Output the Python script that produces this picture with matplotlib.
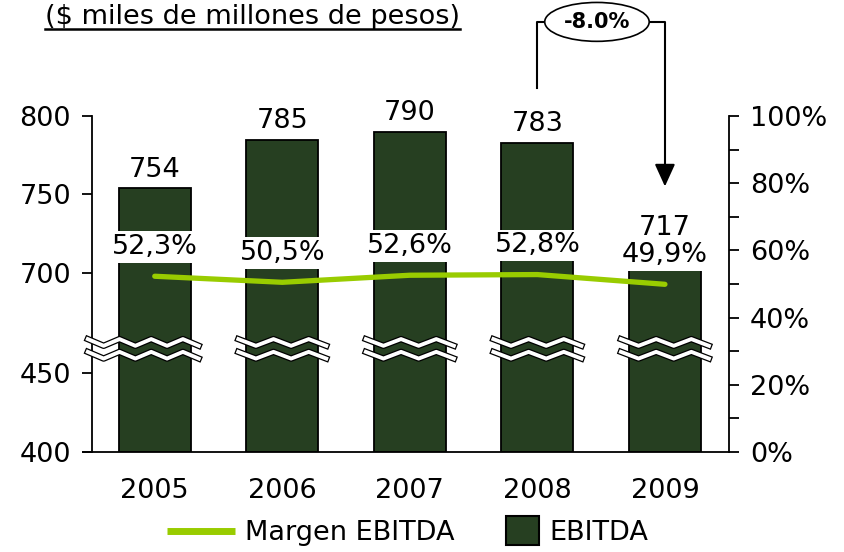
#!/usr/bin/env python3
"""
Recreates the EBITDA / Margen EBITDA chart with a broken left axis.
"""

import numpy as np
import matplotlib
matplotlib.use("Agg")
import matplotlib.pyplot as plt
import matplotlib.patheffects as pe
from matplotlib.lines import Line2D
from matplotlib.patches import Patch, Rectangle
from matplotlib.legend_handler import HandlerPatch
from matplotlib.transforms import blended_transform_factory

# data
years = ['2005', '2006', '2007', '2008', '2009']
ebitda = [754, 785, 790, 783, 717]
margen = [52.3, 50.5, 52.6, 52.8, 49.9]
left_ticks = [400, 450, 700, 750, 800]
right_ticks = [0, 20, 40, 60, 80, 100]
change_label = '-8.0%'
title = '($ miles de millones de pesos)'

BAR_COLOR = '#263F21'
LINE_COLOR = '#99CC00'
FS = 19.5

# broken axis: values between B1 and B2 are cut out
B1, B2 = 465.6, 651.6


def fwd(v):
    v = np.asarray(v, float)
    return np.where(v <= B1, v, np.where(v >= B2, v - (B2 - B1), B1))


def inv(u):
    u = np.asarray(u, float)
    return np.where(u <= B1, u, u + (B2 - B1))


plt.rcParams['font.family'] = ['DejaVu Sans']
fig = plt.figure(figsize=(8.44, 5.52), dpi=100)
ax = fig.add_axes([0.1087, 0.1812, 0.8637 - 0.1087, 0.7899 - 0.1812])

x = np.arange(len(years))
ax.set_yscale('function', functions=(fwd, inv))
bars = ax.bar(x, np.array(ebitda) - 400, bottom=400, width=0.565,
              color=BAR_COLOR, edgecolor='black', linewidth=1.3, zorder=2)
ax.set_ylim(400, 800)
ax.set_xlim(-0.494, 4.502)
ax.set_yticks(left_ticks)
ax.set_yticklabels([str(t) for t in left_ticks])
ax.set_xticks(x)
ax.set_xticklabels(years)
ax.tick_params(axis='y', direction='out', length=7, width=1.3,
               labelsize=FS, pad=8)
ax.tick_params(axis='x', length=0, labelsize=FS, pad=19)
for s in ['top', 'right']:
    ax.spines[s].set_visible(False)
ax.spines['left'].set_linewidth(1.3)
ax.spines['bottom'].set_linewidth(1.3)
ax.spines['bottom'].set_bounds(-0.56, 4.502)

for xi, v in zip(x, ebitda):
    ax.annotate(str(v), (xi, v), xytext=(0, 4), textcoords='offset points',
                ha='center', va='bottom', fontsize=FS, zorder=3)

# right axis: margin
ax2 = ax.twinx()
ax2.plot(x, margen, color=LINE_COLOR, lw=3.8, solid_capstyle='round', zorder=3)
ax2.set_ylim(0, 100)
ax2.set_yticks(right_ticks)
ax2.set_yticklabels([f'{t}%' for t in right_ticks])
ax2.set_yticks(np.arange(10, 100, 20), minor=True)
ax2.tick_params(axis='y', which='both', direction='out', length=7, width=1.3,
                labelsize=FS, pad=8)
for s in ['top', 'left', 'bottom']:
    ax2.spines[s].set_visible(False)
ax2.spines['right'].set_linewidth(1.3)

for xi, m in zip(x, margen):
    ax2.annotate(f'{m:.1f}'.replace('.', ',') + '%', (xi, m), xytext=(0, 21),
                 textcoords='offset points', ha='center', va='center',
                 fontsize=FS, zorder=4,
                 bbox=dict(facecolor='white', edgecolor='none', pad=2.0))

# break marks
bt = blended_transform_factory(ax.transData, ax.transAxes)
zz_fx = [pe.Stroke(linewidth=4.6, foreground='black'), pe.Normal()]
for xi in x:
    x0 = -0.525 if xi == 0 else xi - 0.345
    xs = np.linspace(x0, xi + 0.345, 8 if xi == 0 else 6)
    wig = np.where(np.arange(len(xs)) % 2 == 0, 0.010, -0.010)
    for yb in (0.326, 0.288):
        ax2.plot(xs, yb + wig, color='white', lw=2.8, transform=bt,
                 clip_on=False, zorder=5, path_effects=zz_fx)

# change bracket with arrow
ax2.plot([3, 3, 4, 4], [1.083, 1.28, 1.28, 0.83], color='black', lw=1.5,
         transform=bt, clip_on=False, zorder=5)
ax2.annotate('', xy=(4, 0.782), xycoords=bt, xytext=(4, 0.84), textcoords=bt,
             arrowprops=dict(arrowstyle='-|>,head_length=0.55,head_width=0.25',
                             color='black', lw=1.5, mutation_scale=25),
             zorder=5, annotation_clip=False)
ax2.text(3.467, 1.28, change_label, transform=bt, ha='center', va='center',
         fontsize=15, fontweight='bold', zorder=6, clip_on=False,
         bbox=dict(boxstyle='ellipse,pad=0.18', facecolor='white',
                   edgecolor='black', lw=1.2))

# underlined title
t = fig.text(45 / 844, 1 - 17 / 552, title, fontsize=FS, ha='left', va='center')
fig.canvas.draw()
bb = t.get_window_extent().transformed(fig.transFigure.inverted())
fig.add_artist(Line2D([bb.x0, bb.x1], [1 - 29 / 552] * 2, color='black',
                      lw=1.8, transform=fig.transFigure))


# legend
def square(legend, orig_handle, xdescent, ydescent, width, height, fontsize):
    w, h = fontsize * 1.2, fontsize * 1.05
    return Rectangle((width - xdescent - w, height / 2 - ydescent - h / 2), w, h)


handles = [Line2D([], [], color=LINE_COLOR, lw=5, solid_capstyle='butt'),
           Patch(facecolor=BAR_COLOR, edgecolor='black', lw=1.5)]
fig.legend(handles, ['Margen EBITDA', 'EBITDA'], loc='center',
           bbox_to_anchor=(0.483, 1 - 533 / 552), ncol=2, frameon=False,
           fontsize=FS, handlelength=2.5, handletextpad=0.4, columnspacing=0.6,
           handler_map={Patch: HandlerPatch(patch_func=square)})

fig.savefig('out.png', dpi=100)
